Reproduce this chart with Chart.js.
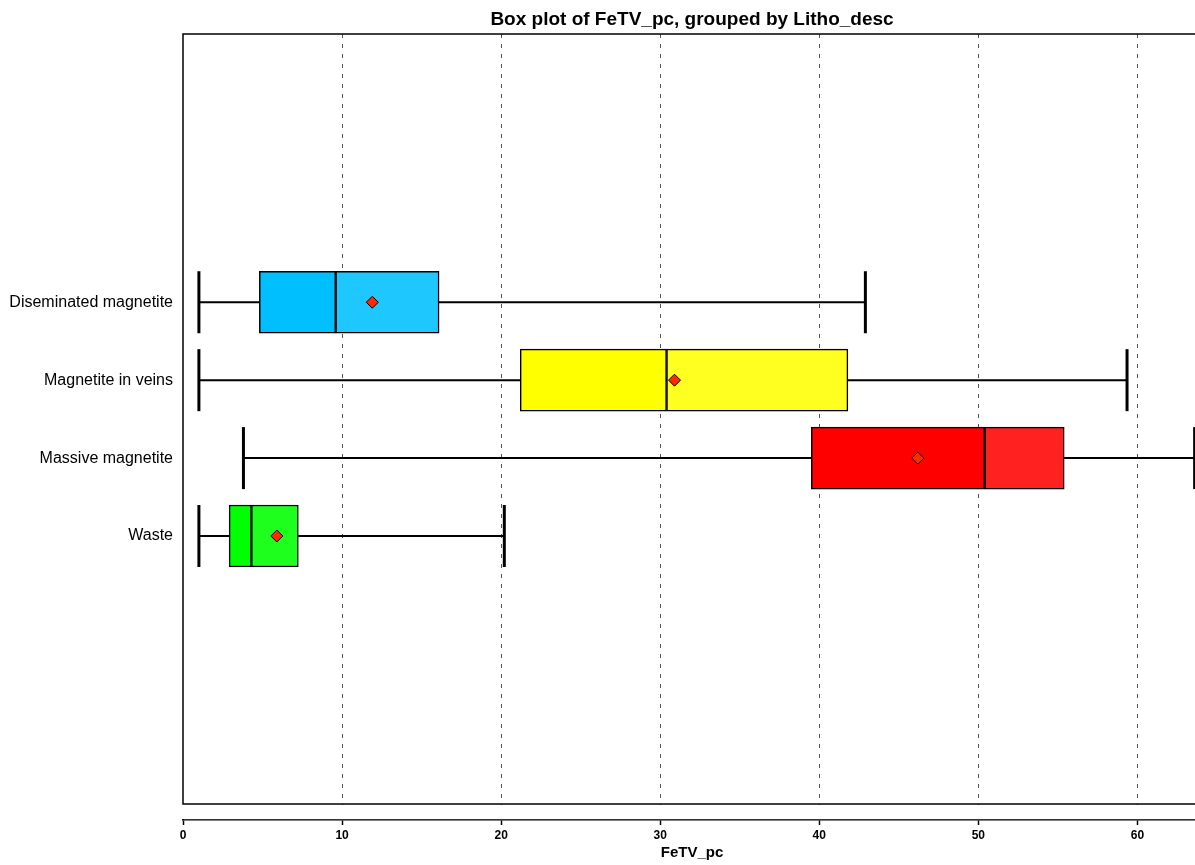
<!DOCTYPE html>
<html>
<head>
<meta charset="utf-8">
<title>Box plot of FeTV_pc, grouped by Litho_desc</title>
<script src="https://cdn.jsdelivr.net/npm/chart.js@4"></script>
<style>
  html, body { margin: 0; padding: 0; background: #fff; overflow: hidden; }
  canvas { display: block; }
</style>
</head>
<body>
<canvas id="chart" width="1384" height="865"></canvas>
<script>
// categories, top to bottom
const categories = ["Diseminated magnetite", "Magnetite in veins", "Massive magnetite", "Waste"];
// box plot stats (FeTV_pc)
const minVals    = [1.0, 1.0, 3.8, 1.0];
const q1Vals     = [4.8, 21.2, 39.5, 2.9];
const medianVals = [9.6, 30.4, 50.4, 4.3];
const q3Vals     = [16.1, 41.8, 55.4, 7.25];
const maxVals    = [42.9, 59.35, 63.6, 20.2];
const meanVals   = [11.9, 30.9, 46.2, 5.9];
const xTicks = [0, 10, 20, 30, 40, 50, 60];

// fill colours: left of median / right of median
const lowColors  = ["#00BFFF", "#FFFF00", "#FF0000", "#00FF00"];
const highColors = ["#1EC8FF", "#FFFF20", "#FF2020", "#1EFF1E"];

const FONT = "'Liberation Sans', Arial, Helvetica, sans-serif";
const pos = (i) => categories.length - i;
const pts = (vals) => vals.map((v, i) => ({ x: v, y: pos(i) }));
const range = (a, b) => a.map((v, i) => ({ x: [v, b[i]], y: pos(i) }));

// plot frame (left/top/bottom) sitting above the detached x axis
const framePlugin = {
  id: "frame",
  beforeDatasetsDraw(chart) {
    const { ctx, chartArea: a } = chart;
    const fb = a.bottom - 16;
    ctx.save();
    ctx.fillStyle = "#fff";
    ctx.fillRect(a.left + 1, fb + 1, a.right - a.left, a.bottom - fb - 1.8);
    ctx.strokeStyle = "#000";
    ctx.lineWidth = 1.5;
    ctx.strokeRect(a.left, a.top, a.right - a.left, fb - a.top);
    ctx.restore();
  }
};

new Chart(document.getElementById("chart"), {
  type: "bar",
  data: {
    datasets: [
      { // whiskers
        type: "bar", data: range(minVals, maxVals), backgroundColor: "#000",
        barThickness: 1.4, grouped: false, order: 5
      },
      { // whisker caps
        type: "scatter", data: [...pts(minVals), ...pts(maxVals)],
        pointStyle: "line", rotation: 90, radius: 31, borderWidth: 3,
        borderColor: "#000", order: 4
      },
      { // box, q1 -> median
        type: "bar", data: range(q1Vals, medianVals), backgroundColor: lowColors,
        borderColor: "#000", borderWidth: 1.5, borderSkipped: false,
        barThickness: 62, grouped: false, order: 3
      },
      { // box, median -> q3
        type: "bar", data: range(medianVals, q3Vals), backgroundColor: highColors,
        borderColor: "#000", borderWidth: 1.5, borderSkipped: false,
        barThickness: 62, grouped: false, order: 2
      },
      { // means
        type: "scatter", data: pts(meanVals),
        pointStyle: "rectRot", radius: 6, backgroundColor: "#FF2A00",
        borderColor: "#000", borderWidth: 1, order: 1
      }
    ]
  },
  options: {
    indexAxis: "y",
    responsive: false,
    animation: false,
    events: [],
    layout: { padding: { left: 0, right: 183, top: 0, bottom: 0 } },
    plugins: {
      legend: { display: false },
      tooltip: { enabled: false },
      title: { display: false }
    },
    scales: {
      // top axis only carries the chart title, centred over the plot area
      xTop: {
        type: "linear", position: "top", axis: "x", min: 0, max: 64,
        afterFit: (s) => { s.height = 34; },
        grid: { display: false, drawTicks: false },
        border: { display: false },
        ticks: { display: false },
        title: {
          display: true, text: "Box plot of FeTV_pc, grouped by Litho_desc", color: "#000",
          font: { family: FONT, size: 19, weight: "bold" }, padding: { top: 8, bottom: 0 }
        }
      },
      x: {
        type: "linear", position: "bottom", min: 0, max: 64,
        afterBuildTicks: (s) => { s.ticks = xTicks.map((v) => ({ value: v })); },
        afterFit: (s) => { s.height = 45; },
        grid: {
          color: (c) => (c.tick && c.tick.value === 0 ? "rgba(0,0,0,0)" : "#555"),
          lineWidth: 1, drawTicks: true, tickLength: 5, tickColor: "#000", tickWidth: 1.5
        },
        border: { display: true, color: "#000", width: 1.5, dash: [4, 6] },
        ticks: { color: "#000", font: { family: FONT, size: 12, weight: "bold" }, padding: 3, maxRotation: 0 },
        title: {
          display: true, text: "FeTV_pc", color: "#000",
          font: { family: FONT, size: 15, weight: "bold" }, padding: { top: 0, bottom: 3 }
        }
      },
      y: {
        type: "linear", min: -2.644, max: 7.442, offset: false,
        afterBuildTicks: (s) => { s.ticks = categories.map((c, i) => ({ value: pos(i) })); },
        afterFit: (s) => { s.width = 183; },
        grid: { display: false, offset: false },
        border: { display: false },
        ticks: {
          color: "#000", font: { family: FONT, size: 16 }, padding: 2, autoSkip: false,
          callback: (v) => categories[categories.length - v]
        }
      }
    }
  },
  plugins: [framePlugin]
});
</script>
</body>
</html>
